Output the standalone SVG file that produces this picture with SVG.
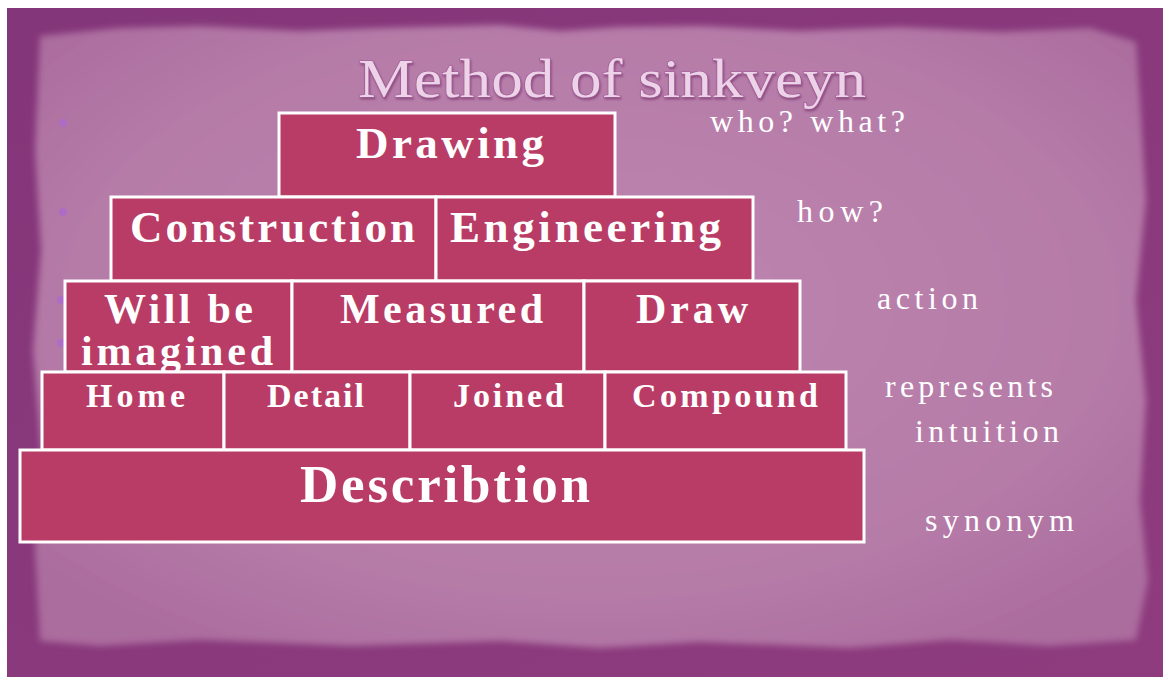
<svg xmlns="http://www.w3.org/2000/svg" width="1163" height="677" viewBox="0 0 1163 677">
  <defs>
    <style>
      .box { fill: #b93c66; stroke: #ffffff; stroke-width: 3; }
      .bt { font-family: "Liberation Serif", "Times New Roman", serif; font-weight: bold; fill: #ffffff; }
      .side { font-family: "Liberation Serif", "Times New Roman", serif; fill: #ffffff; font-size: 32px; }
      .title { font-family: "Liberation Serif", "Times New Roman", serif; font-size: 54px; fill: #ecd3e8; stroke: #a4589a; stroke-width: 1.2; paint-order: stroke; }
      .dot { fill: #ae6cc6; }
    </style>
    <radialGradient id="paper" cx="0.5" cy="0.45" r="0.65">
      <stop offset="0" stop-color="#bd85b0"/>
      <stop offset="0.7" stop-color="#b67ca8"/>
      <stop offset="1" stop-color="#ab6c9e"/>
    </radialGradient>
    <linearGradient id="border" x1="0" y1="0" x2="1" y2="1">
      <stop offset="0" stop-color="#84367a"/>
      <stop offset="1" stop-color="#8e3c7e"/>
    </linearGradient>
    <filter id="soft" x="-5%" y="-5%" width="110%" height="110%">
      <feGaussianBlur stdDeviation="3"/>
    </filter>
    <filter id="titleShadow" x="-5%" y="-20%" width="110%" height="150%">
      <feDropShadow dx="1" dy="2" stdDeviation="1.2" flood-color="#6e2a63" flood-opacity="0.6"/>
    </filter>
  </defs>

  <!-- background -->
  <rect x="0" y="0" width="1163" height="677" fill="#ffffff"/>
  <rect x="7" y="8" width="1156" height="669" fill="url(#border)"/>
  <path d="M40,36 L120,28 L200,26 L300,31 L380,28 L500,25 L560,31 L620,27 L700,26 L800,31 L900,27 L1000,32 L1090,28 L1136,42 L1140,100 L1146,200 L1136,300 L1146,400 L1140,500 L1148,580 L1136,640 L1050,646 L950,640 L850,648 L700,642 L600,648 L500,641 L350,646 L200,640 L100,646 L40,641 L35,550 L41,450 L33,350 L41,250 L35,150 Z" fill="url(#paper)" filter="url(#soft)"/>

  <!-- bullet remnants -->
  <circle class="dot" cx="63" cy="123" r="4"/>
  <circle class="dot" cx="63" cy="212" r="4"/>
  <circle class="dot" cx="61" cy="300" r="4"/>
  <circle class="dot" cx="61" cy="343" r="4"/>

  <!-- title -->
  <g id="title" filter="url(#titleShadow)">
    <text class="title" x="358" y="97" textLength="508" lengthAdjust="spacingAndGlyphs">Method of sinkveyn</text>
  </g>

  <!-- pyramid -->
  <g id="node-drawing">
    <rect class="box" x="279" y="113" width="336" height="84"/>
    <text class="bt" x="356" y="158" font-size="45" textLength="188" lengthAdjust="spacing">Drawing</text>
  </g>
  <g id="node-construction">
    <rect class="box" x="111" y="197" width="325" height="84"/>
    <text class="bt" x="130" y="242" font-size="45" textLength="285" lengthAdjust="spacing">Construction</text>
  </g>
  <g id="node-engineering">
    <rect class="box" x="436" y="197" width="317" height="84"/>
    <text class="bt" x="450" y="242" font-size="45" textLength="271" lengthAdjust="spacing">Engineering</text>
  </g>
  <g id="node-imagined">
    <rect class="box" x="65" y="281" width="227" height="91"/>
    <text class="bt" x="104" y="323" font-size="42" textLength="149" lengthAdjust="spacing">Will be</text>
    <text class="bt" x="81" y="365" font-size="42" textLength="192" lengthAdjust="spacing">imagined</text>
  </g>
  <g id="node-measured">
    <rect class="box" x="292" y="281" width="292" height="91"/>
    <text class="bt" x="340" y="323" font-size="42" textLength="203" lengthAdjust="spacing">Measured</text>
  </g>
  <g id="node-draw">
    <rect class="box" x="584" y="281" width="216" height="91"/>
    <text class="bt" x="636" y="323" font-size="42" textLength="112" lengthAdjust="spacing">Draw</text>
  </g>
  <g id="node-home">
    <rect class="box" x="42" y="372" width="182" height="78"/>
    <text class="bt" x="86" y="407" font-size="34" textLength="99" lengthAdjust="spacing">Home</text>
  </g>
  <g id="node-detail">
    <rect class="box" x="224" y="372" width="186" height="78"/>
    <text class="bt" x="267" y="407" font-size="34" textLength="97" lengthAdjust="spacing">Detail</text>
  </g>
  <g id="node-joined">
    <rect class="box" x="410" y="372" width="195" height="78"/>
    <text class="bt" x="453" y="407" font-size="34" textLength="111" lengthAdjust="spacing">Joined</text>
  </g>
  <g id="node-compound">
    <rect class="box" x="605" y="372" width="241" height="78"/>
    <text class="bt" x="632" y="407" font-size="34" textLength="186" lengthAdjust="spacing">Compound</text>
  </g>
  <g id="node-describtion">
    <rect class="box" x="20" y="450" width="844" height="92"/>
    <text class="bt" x="300" y="502" font-size="53" textLength="290" lengthAdjust="spacing">Describtion</text>
  </g>

  <!-- side labels -->
  <g id="labels">
    <text class="side" x="710" y="132" textLength="195" lengthAdjust="spacing">who? what?</text>
    <text class="side" x="797" y="222" textLength="86" lengthAdjust="spacing">how?</text>
    <text class="side" x="877" y="309" textLength="101" lengthAdjust="spacing">action</text>
    <text class="side" x="885" y="397" textLength="168" lengthAdjust="spacing">represents</text>
    <text class="side" x="915" y="442" textLength="144" lengthAdjust="spacing">intuition</text>
    <text class="side" x="925" y="531" textLength="149" lengthAdjust="spacing">synonym</text>
  </g>
</svg>
